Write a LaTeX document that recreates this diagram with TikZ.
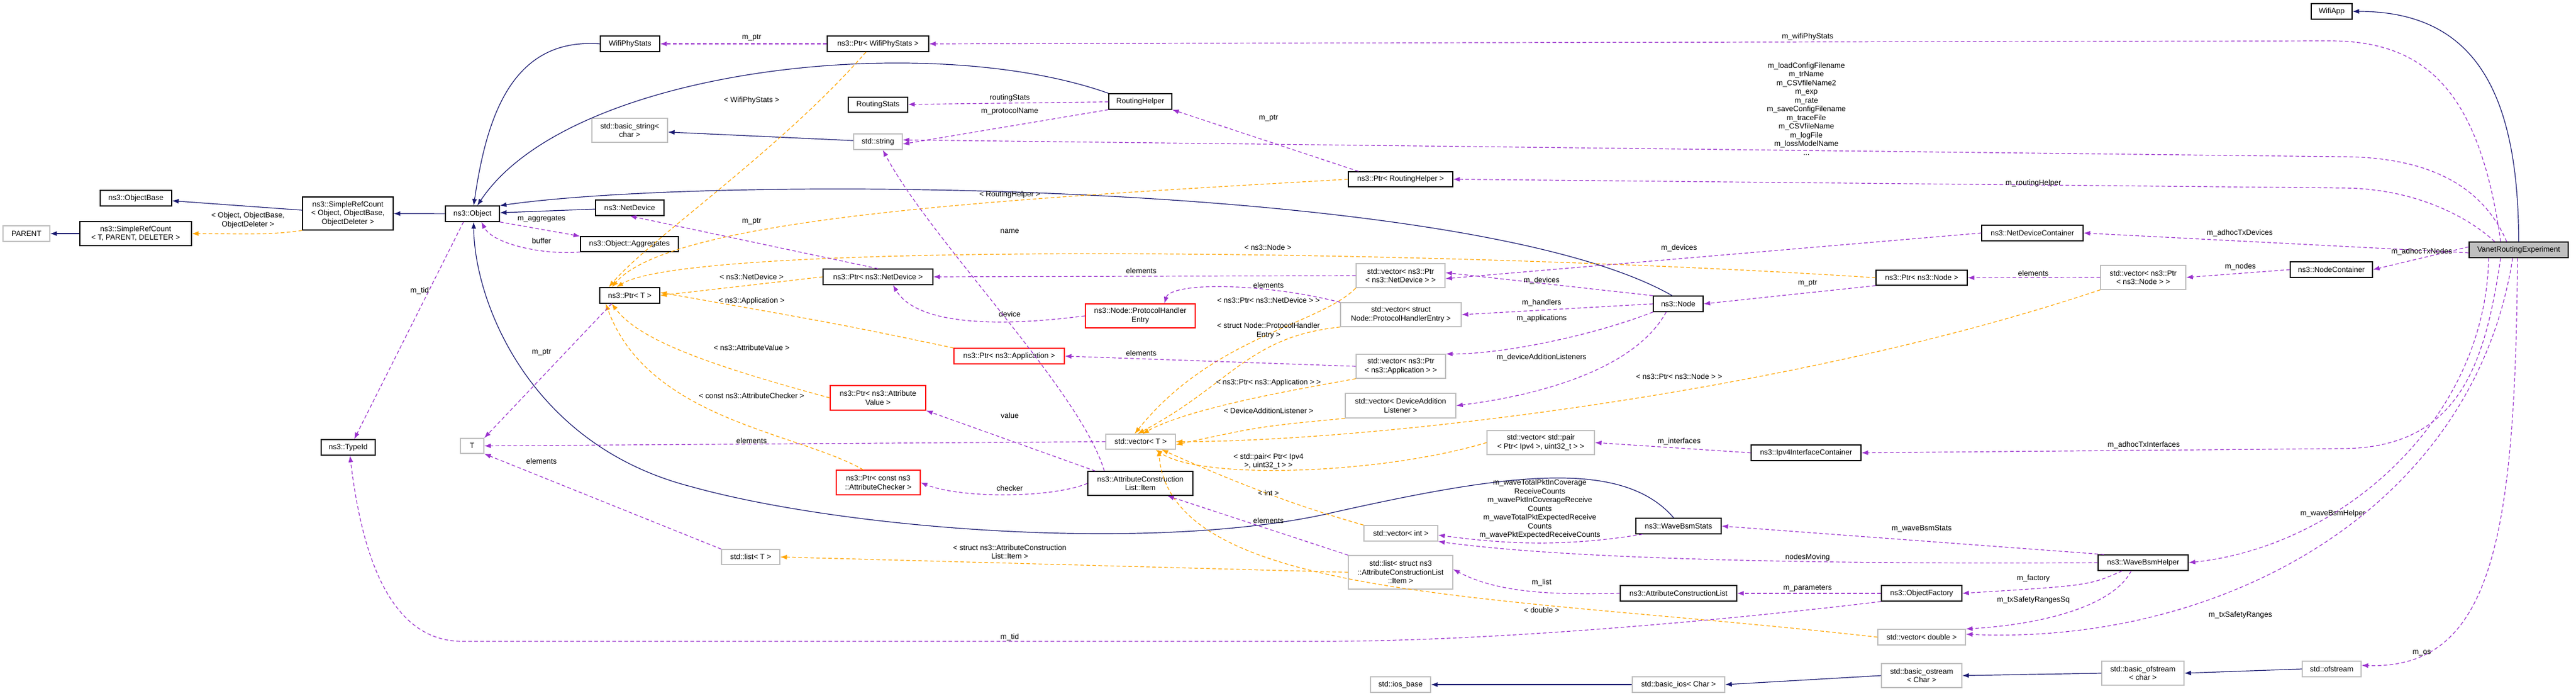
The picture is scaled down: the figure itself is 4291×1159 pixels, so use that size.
\documentclass[tikz,border=0pt]{standalone}
\usepackage{fontspec}
\setmainfont{Liberation Sans}
\usetikzlibrary{arrows.meta}
\definecolor{navy}{HTML}{191970}
\definecolor{purp}{HTML}{9A32CD}
\definecolor{orng}{HTML}{FFA500}
\begin{document}
\begin{tikzpicture}[x=1pt,y=-1pt,
  every node/.style={font=\fontsize{12.5}{14.5}\selectfont, inner sep=0pt, align=center},
  box/.style={draw=black, line width=1.3pt, fill=white},
  gbox/.style={draw=black!25, line width=1.3pt, fill=white},
  rbox/.style={draw=red, line width=1.3pt, fill=white},
  lbl/.style={fill=none},
  tip/.style={-{Latex[length=11pt,width=8pt]}},
  inh/.style={tip, draw=navy, line width=1.2pt},
  tmpl/.style={tip, draw=orng, line width=1.2pt, dash pattern=on 6pt off 4pt},
  use/.style={tip, draw=purp, line width=1.2pt, dash pattern=on 6pt off 4pt}]
\useasboundingbox (0,0) rectangle (4291,1159);
\newcommand{\bx}[6]{\node[#1, minimum width=#4, minimum height=#5] (#2) at (#3) {#6};}
\bx{box}{obase}{226.5,330}{119}{26}{ns3::ObjectBase}
\bx{box}{src}{579.5,355.5}{151}{55}{ns3::SimpleRefCount\\< Object, ObjectBase,\\ObjectDeleter >}
\bx{gbox}{parent}{44,389}{78}{26}{PARENT}
\bx{box}{srcT}{226,389}{186}{40}{ns3::SimpleRefCount\\< T, PARENT, DELETER >}
\bx{box}{object}{787,356}{90}{26}{ns3::Object}
\bx{box}{wps}{1049.5,73}{99}{26}{WifiPhyStats}
\bx{gbox}{bstr}{1049,217}{126}{40}{std::basic\_string<\\char >}
\bx{box}{netdev}{1049,346}{114}{26}{ns3::NetDevice}
\bx{box}{aggr}{1048.5,406.5}{163}{25}{ns3::Object::Aggregates}
\bx{box}{ptrT}{1049,492}{100}{26}{ns3::Ptr< T >}
\bx{box}{typeid}{580,745}{90}{26}{ns3::TypeId}
\bx{gbox}{T}{786.5,742.5}{39}{25}{T}
\bx{box}{ptrwps}{1462.5,73}{169}{26}{ns3::Ptr< WifiPhyStats >}
\bx{box}{rstats}{1462.5,174.5}{99}{25}{RoutingStats}
\bx{box}{rhelper}{1899.5,169}{105}{26}{RoutingHelper}
\bx{gbox}{string}{1462.5,236}{81}{26}{std::string}
\bx{box}{ptrnd}{1462.5,461}{183}{26}{ns3::Ptr< ns3::NetDevice >}
\bx{rbox}{phe}{1899.5,526}{183}{40}{ns3::Node::ProtocolHandler\\Entry}
\bx{box}{ptrrh}{2333,298.5}{174}{25}{ns3::Ptr< RoutingHelper >}
\bx{gbox}{vnd}{2333,459}{148}{40}{std::vector< ns3::Ptr\\< ns3::NetDevice > >}
\bx{gbox}{vphe}{2333.5,524}{201}{40}{std::vector< struct\\ Node::ProtocolHandlerEntry >}
\bx{box}{node}{2795.5,506}{83}{26}{ns3::Node}
\bx{box}{ptrnode}{3201,462.5}{152}{25}{ns3::Ptr< ns3::Node >}
\bx{box}{wifiapp}{3884,19}{68}{26}{WifiApp}
\node[draw=black, line width=1.3pt, fill=black!25, minimum width=165, minimum height=26] (vanet) at (4195.5,416) {VanetRoutingExperiment};
\bx{box}{ndc}{3385.5,388}{169}{26}{ns3::NetDeviceContainer}
\bx{box}{nc}{3883.5,449}{137}{26}{ns3::NodeContainer}
\bx{gbox}{vnode}{3570,462}{142}{40}{std::vector< ns3::Ptr\\< ns3::Node > >}
\bx{rbox}{ptrapp}{1681,593}{184}{26}{ns3::Ptr< ns3::Application >}
\bx{rbox}{ptrav}{1462.5,662.5}{159}{41}{ns3::Ptr< ns3::Attribute\\Value >}
\bx{gbox}{vecT}{1900,735.5}{116}{25}{std::vector< T >}
\bx{rbox}{ptrac}{1463,803.5}{140}{41}{ns3::Ptr< const ns3\\::AttributeChecker >}
\bx{box}{aclitem}{1899.5,805}{175}{40}{ns3::AttributeConstruction\\List::Item}
\bx{gbox}{listT}{1250.5,927.5}{97}{25}{std::list< T >}
\bx{gbox}{vapp}{2333.5,610}{149}{40}{std::vector< ns3::Ptr\\< ns3::Application > >}
\bx{gbox}{vdal}{2333,675.5}{184}{41}{std::vector< DeviceAddition\\Listener >}
\bx{gbox}{vpair}{2566.5,737}{179}{40}{std::vector< std::pair\\< Ptr< Ipv4 >, uint32\_t > >}
\bx{box}{ipv4}{3008.5,754}{183}{26}{ns3::Ipv4InterfaceContainer}
\bx{gbox}{vint}{2333.5,888}{123}{26}{std::vector< int >}
\bx{box}{wbs}{2796,876}{142}{26}{ns3::WaveBsmStats}
\bx{gbox}{lsi}{2333,953}{174}{56}{std::list< struct ns3\\::AttributeConstructionList\\::Item >}
\bx{box}{acl}{2796,988}{194}{26}{ns3::AttributeConstructionList}
\bx{box}{ofac}{3201,988}{134}{26}{ns3::ObjectFactory}
\bx{gbox}{vdbl}{3201,1061}{146}{26}{std::vector< double >}
\bx{gbox}{iosb}{2333,1140}{100}{26}{std::ios\_base}
\bx{gbox}{bios}{2796,1140}{154}{26}{std::basic\_ios< Char >}
\bx{gbox}{bostr}{3201,1125}{134}{40}{std::basic\_ostream\\< Char >}
\bx{box}{wbh}{3570,937}{150}{26}{ns3::WaveBsmHelper}
\bx{gbox}{bofs}{3569.5,1121}{137}{40}{std::basic\_ofstream\\< char >}
\bx{gbox}{ofs}{3884,1114}{98}{26}{std::ofstream}

% inheritance
\draw[inh] (src) -- (obase);
\draw[inh] (srcT) -- (parent);
\draw[inh] (object) -- (src);
\draw[inh] (wps.west) .. controls (850,62) and (810,200) .. ([xshift=2]object.north);
\draw[inh] (rhelper.north west) .. controls (1550,50) and (950,110) .. ([xshift=8]object.north);
\draw[inh] (string) -- (bstr);
\draw[inh] (netdev) -- (object);
\draw[inh] ([xshift=-10]node.north) .. controls (2450,300) and (1200,290) .. (object.north east);
\draw[inh] ([xshift=-8]wbs.north) .. controls (2700,760) and (2500,790) .. (2200,858) .. controls (1900,920) and (1400,880) .. (1150,810) .. controls (880,740) and (790,500) .. ([xshift=2]object.south);
\draw[inh] (vanet.north) .. controls (4195,150) and (4120,19) .. (wifiapp.east);
\draw[inh] (bios) -- (iosb);
\draw[inh] (bostr.west) -- (bios.east);
\draw[inh] (bofs.west) -- (bostr.east);
\draw[inh] (ofs.west) -- (bofs.east);

% templates
\draw[tmpl] (src.south west) .. controls (450,392) and (400,389) .. (srcT.east);
\node[lbl] (l1) at (413,367) {< Object, ObjectBase,\\ObjectDeleter >};
\draw[tmpl] ([xshift=-20]ptrwps.south) .. controls (1300,250) and (1080,400) .. ([xshift=-35]ptrT.north);
\node[lbl] (l2) at (1252,167) {< WifiPhyStats >};
\draw[tmpl] (ptrrh.west) .. controls (1700,330) and (1120,360) .. ([xshift=-30]ptrT.north);
\node[lbl] (l3) at (1682,324) {< RoutingHelper >};
\draw[tmpl] (ptrnode.west) .. controls (2400,415) and (1150,400) .. ([xshift=-22]ptrT.north);
\node[lbl] (l4) at (2112,412) {< ns3::Node >};
\draw[tmpl] (ptrnd.west) -- (ptrT.east);
\node[lbl] (l5) at (1252,461) {< ns3::NetDevice >};
\draw[tmpl] (ptrapp.north west) .. controls (1400,540) .. ([yshift=5]ptrT.east);
\node[lbl] (l6) at (1252,501) {< ns3::Application >};
\draw[tmpl] (ptrav.west) .. controls (1150,600) and (1060,560) .. ([xshift=-30]ptrT.south);
\node[lbl] (l7) at (1252,579) {< ns3::AttributeValue >};
\draw[tmpl] ([xshift=-25]ptrac.north) .. controls (1330,720) and (1080,700) .. ([xshift=-40]ptrT.south);
\node[lbl] (l8) at (1252,659) {< const ns3::AttributeChecker >};
\draw[tmpl] (vnd.south west) .. controls (2200,540) and (2020,560) .. ([xshift=-10]vecT.north);
\node[lbl] (l9) at (2113,500) {< ns3::Ptr< ns3::NetDevice > >};
\draw[tmpl] (vphe.south west) .. controls (2080,560) and (2050,640) .. ([xshift=-5]vecT.north);
\node[lbl] (l10) at (2113,551) {< struct Node::ProtocolHandler\\Entry >};
\draw[tmpl] (vapp.south west) .. controls (2150,650) and (1980,680) .. ([xshift=3]vecT.north);
\node[lbl] (l11) at (2113,637) {< ns3::Ptr< ns3::Application > >};
\draw[tmpl] (vdal.south west) .. controls (2100,710) .. ([yshift=-5]vecT.east);
\node[lbl] (l12) at (2113,684) {< DeviceAdditionListener >};
\draw[tmpl] (vnode.south west) .. controls (3000,650) and (2300,735) .. (vecT.east);
\node[lbl] (l13) at (2797,627) {< ns3::Ptr< ns3::Node > >};
\draw[tmpl] (vpair.west) .. controls (2300,790) and (2000,800) .. ([xshift=25]vecT.south);
\node[lbl] (l14) at (2113,768) {< std::pair< Ptr< Ipv4\\>, uint32\_t > >};
\draw[tmpl] (vint.north west) .. controls (2150,840) and (2050,800) .. ([xshift=35]vecT.south);
\node[lbl] (l15) at (2113,821) {< int >};
\draw[tmpl] (vdbl.west) .. controls (2500,990) and (1950,1000) .. ([xshift=30]vecT.south);
\node[lbl] (l16) at (2568,1016) {< double >};
\draw[tmpl] (lsi.west) -- (listT.east);
\node[lbl] (l17) at (1682,919) {< struct ns3::AttributeConstruction\\List::Item >};

% usage
\draw[use] (ptrwps) -- (wps);
\node[lbl] (u1) at (1252,63) {m\_ptr};
\draw[use] ([xshift=-30]vanet.north) .. controls (4130,150) and (4040,68) .. (3880,68) -- (ptrwps.east);
\node[lbl] (u2) at (3011,61) {m\_wifiPhyStats};
\draw[use] (rhelper) -- (rstats);
\node[lbl] (u3) at (1682,163) {routingStats};
\draw[use] (rhelper.south west) -- ([yshift=-4]string.east);
\node[lbl] (u4) at (1682,185) {m\_protocolName};
\draw[use] ([xshift=-20]vanet.north) .. controls (4140,320) and (4060,261) .. (3900,261) -- ([yshift=3]string.east);
\node[lbl] (u5) at (3009,181) {m\_loadConfigFilename\\m\_trName\\m\_CSVfileName2\\m\_exp\\m\_rate\\m\_saveConfigFilename\\m\_traceFile\\m\_CSVfileName\\m\_logFile\\m\_lossModelName\\...};
\draw[use] ([xshift=-70]ptrrh.north) -- (rhelper.south east);
\node[lbl] (u6) at (2113,197) {m\_ptr};
\draw[use] ([xshift=-40]vanet.north) .. controls (4110,360) and (4020,313) .. (3900,313) -- (ptrrh.east);
\node[lbl] (u7) at (3387,305) {m\_routingHelper};
\draw[use] (object.south east) -- (aggr.north west);
\node[lbl] (u8) at (902,365) {m\_aggregates};
\draw[use] (aggr.south west) .. controls (900,425) and (820,405) .. ([xshift=15]object.south);
\node[lbl] (u9) at (902,401) {buffer};
\draw[use] ([xshift=-15]object.south) -- ([xshift=10]typeid.north);
\node[lbl] (u10) at (699,484) {m\_tid};
\draw[use] ([xshift=-30]ptrT.south) -- (T.north east);
\node[lbl] (u11) at (902,587) {m\_ptr};
\draw[use] (ptrnd.north) -- (netdev.south);
\node[lbl] (u12) at (1252,369) {m\_ptr};
\draw[use] (vnd.west) -- (ptrnd.east);
\node[lbl] (u13) at (1901,451) {elements};
\draw[use] (phe.west) .. controls (1620,550) and (1520,530) .. ([xshift=25]ptrnd.south);
\node[lbl] (u14) at (1682,523) {device};
\draw[use] (vphe.north west) .. controls (2100,470) and (1950,470) .. ([xshift=40]phe.north);
\node[lbl] (u15) at (2113,475) {elements};
\draw[use] (ndc.west) -- ([yshift=-5]vnd.east);
\node[lbl] (u16) at (2797,413) {m\_devices};
\draw[use] (node.north west) -- ([yshift=5]vnd.east);
\node[lbl] (u17) at (2568,467) {m\_devices};
\draw[use] (node.west) -- (vphe.east);
\node[lbl] (u18) at (2568,504) {m\_handlers};
\draw[use] (node.south west) .. controls (2650,560) and (2500,590) .. (vapp.north east);
\node[lbl] (u19) at (2568,530) {m\_applications};
\draw[use] ([xshift=-20]node.south) .. controls (2720,620) and (2550,660) .. (vdal.east);
\node[lbl] (u20) at (2568,595) {m\_deviceAdditionListeners};
\draw[use] (vapp.west) -- (ptrapp.east);
\node[lbl] (u21) at (1901,588) {elements};
\draw[use] (ptrnode.south west) -- (node.east);
\node[lbl] (u22) at (3011,472) {m\_ptr};
\draw[use] (vnode.west) -- (ptrnode.east);
\node[lbl] (u23) at (3387,455) {elements};
\draw[use] (nc.west) -- (vnode.east);
\node[lbl] (u24) at (3732,444) {m\_nodes};
\draw[use] ([yshift=-5]vanet.west) -- (ndc.east);
\node[lbl] (u25) at (3731,388) {m\_adhocTxDevices};
\draw[use] ([yshift=5]vanet.west) -- (nc.east);
\node[lbl] (u26) at (4034,419) {m\_adhocTxNodes};
\draw[use] ([xshift=-30]vanet.south) .. controls (4140,600) and (4100,747) .. (3900,747) -- (ipv4.east);
\node[lbl] (u27) at (3571,741) {m\_adhocTxInterfaces};
\draw[use] (ipv4.west) -- (vpair.east);
\node[lbl] (u28) at (2797,735) {m\_interfaces};
\draw[use] (vecT.west) -- (T.east);
\node[lbl] (u29) at (1252,734) {elements};
\draw[use] (listT.north west) -- (T.south east);
\node[lbl] (u30) at (902,768) {elements};
\draw[use] ([xshift=-60]aclitem.north) .. controls (1800,650) and (1550,400) .. ([xshift=8]string.south);
\node[lbl] (u31) at (1682,385) {name};
\draw[use] ([xshift=-75]aclitem.north) -- (ptrav.south east);
\node[lbl] (u32) at (1682,692) {value};
\draw[use] (aclitem.west) .. controls (1750,830) and (1600,830) .. (ptrac.east);
\node[lbl] (u33) at (1682,813) {checker};
\draw[use] (lsi.north west) -- ([xshift=45]aclitem.south);
\node[lbl] (u34) at (2113,867) {elements};
\draw[use] (acl.west) .. controls (2600,990) and (2500,990) .. ([yshift=5]lsi.east);
\node[lbl] (u35) at (2568,970) {m\_list};
\draw[use] (ofac.west) -- (acl.east);
\node[lbl] (u36) at (3011,980) {m\_parameters};
\draw[use] (ofac.south west) .. controls (2900,1030) and (2500,1068) .. (2200,1068) -- (770,1068) .. controls (640,1068) and (600,900) .. ([xshift=3]typeid.south);
\node[lbl] (u37) at (1682,1061) {m\_tid};
\draw[use] ([xshift=-60]wbs.south) .. controls (2600,912) and (2500,905) .. ([yshift=-3]vint.east);
\node[lbl] (u38) at (2565,848) {m\_waveTotalPktInCoverage\\ReceiveCounts\\m\_wavePktInCoverageReceive\\Counts\\m\_waveTotalPktExpectedReceive\\Counts\\m\_wavePktExpectedReceiveCounts};
\draw[use] (wbh.west) .. controls (3000,940) and (2600,930) .. (vint.south east);
\node[lbl] (u39) at (3011,928) {nodesMoving};
\draw[use] ([xshift=-65]wbh.north) -- (wbs.east);
\node[lbl] (u40) at (3201,880) {m\_waveBsmStats};
\draw[use] ([xshift=-35]wbh.south) .. controls (3480,975) .. (ofac.east);
\node[lbl] (u41) at (3387,963) {m\_factory};
\draw[use] ([xshift=-20]wbh.south) .. controls (3520,1010) and (3400,1040) .. (vdbl.north east);
\node[lbl] (u42) at (3387,999) {m\_txSafetyRangesSq};
\draw[use] ([xshift=-50]vanet.south) .. controls (4140,700) and (3900,910) .. (wbh.east);
\node[lbl] (u43) at (3886,855) {m\_waveBsmHelper};
\draw[use] ([xshift=-10]vanet.south) .. controls (4120,850) and (3700,1075) .. ([yshift=5]vdbl.east);
\node[lbl] (u44) at (3732,1024) {m\_txSafetyRanges};
\draw[use] ([xshift=-2]vanet.south) .. controls (4190,900) and (4150,1115) .. ([yshift=6]ofs.east);
\node[lbl] (u45) at (4034,1087) {m\_os};
\end{tikzpicture}
\end{document}
